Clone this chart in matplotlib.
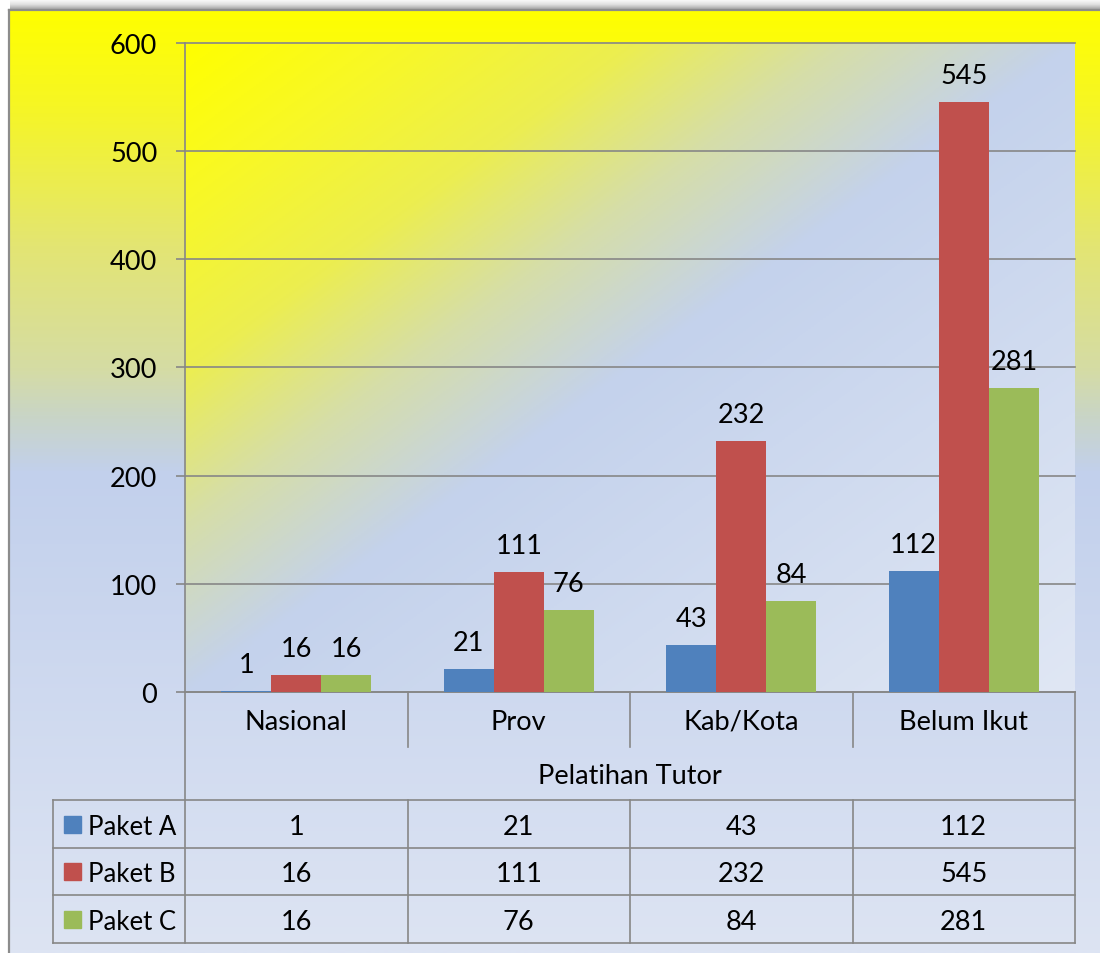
import numpy as np
import matplotlib.pyplot as plt
from matplotlib.colors import LinearSegmentedColormap
from matplotlib.patches import Rectangle
from matplotlib.transforms import blended_transform_factory

# data
categories = ["Nasional", "Prov", "Kab/Kota", "Belum Ikut"]
group_title = "Pelatihan Tutor"
series_names = ["Paket A", "Paket B", "Paket C"]
paket_a = [1, 21, 43, 112]
paket_b = [16, 111, 232, 545]
paket_c = [16, 76, 84, 281]
y_ticks = [0, 100, 200, 300, 400, 500, 600]

colors = ["#4F81BD", "#C0504D", "#9BBB59"]
GRID = "#878787"
LW = 1.2
FS = 19.5
W, H = 1100, 954

plt.rcParams['font.family'] = ['Lato', 'DejaVu Sans']


def fig_rect(x0, y0, x1, y1):
    # pixel box (origin top-left) -> figure fraction rect
    return [x0 / W, 1 - y1 / H, (x1 - x0) / W, (y1 - y0) / H]


fig = plt.figure(figsize=(W / 100, H / 100), dpi=100, facecolor='white')

#   shadow above the chart frame
sh = fig.add_axes(fig_rect(10, 0, W, 11), zorder=0)
sh.axis('off')
sh_cmap = LinearSegmentedColormap.from_list('sh', ['#FFFFFF', '#E0E0E0', '#9A9A9A'])
sh.imshow(np.linspace(0, 1, 64).reshape(-1, 1), cmap=sh_cmap, aspect='auto')

#   chart area background, vertical gradient
bg = fig.add_axes(fig_rect(9, 11, W, H), zorder=0)
bg.axis('off')
bg_cmap = LinearSegmentedColormap.from_list('bg', [
    (0.0, '#FFFF00'), (0.1, '#F6F624'), (0.25, '#E3E573'), (0.38, '#D5DCA4'),
    (0.43, '#C9D5C6'), (0.49, '#C2D0EC'), (1.0, '#DDE4F3')])
bg.imshow(np.linspace(0, 1, 512).reshape(-1, 1), cmap=bg_cmap, aspect='auto')
bg.plot([0, 0], [0, 1], transform=bg.transAxes, color='#8C8C8C', lw=1.6, clip_on=False)
bg.plot([0, 1], [1, 1], transform=bg.transAxes, color='#8C8C8C', lw=1.6, clip_on=False)

#   plot area
ax = fig.add_axes(fig_rect(185, 44, 1075, 693), zorder=2)
ax.set_facecolor('none')
pa_cmap = LinearSegmentedColormap.from_list('pa', [
    (0.0, '#FFFF00'), (0.12, '#F8F826'), (0.25, '#ECEE50'), (0.37, '#D6DEA8'),
    (0.5, '#C4D2EC'), (1.0, '#E0E7F4')])
gx, gy = np.meshgrid(np.linspace(0, 1, 300), np.linspace(0, 1, 300))
ax.imshow((gx + gy) / 2, cmap=pa_cmap, aspect='auto', extent=[0, 1, 0, 1],
          transform=ax.transAxes, zorder=0)

x = np.arange(len(categories))
bw = 0.225
for i, (vals, c) in enumerate(zip([paket_a, paket_b, paket_c], colors)):
    xs = x + (i - 1) * bw
    ax.bar(xs, vals, bw, color=c, zorder=3)
    for xb, v in zip(xs, vals):
        ax.annotate(str(v), (xb, v), xytext=(0, 13.7), textcoords='offset points',
                    ha='center', va='baseline', fontsize=FS, zorder=4)

ax.set_xlim(-0.5, 3.5)
ax.set_ylim(0, 600)
ax.set_yticks(y_ticks)
ax.set_xticks([])
ax.yaxis.grid(True, color=GRID, lw=LW)
for gl in ax.get_ygridlines():
    gl.set_clip_on(False)
ax.set_axisbelow(True)
ax.tick_params(axis='y', length=6.5, width=LW, color=GRID, pad=13.5, labelsize=FS)
for s in ['top', 'right']:
    ax.spines[s].set_visible(False)
for s in ['left', 'bottom']:
    ax.spines[s].set_color(GRID)
    ax.spines[s].set_linewidth(LW)

#   data table under the axis
trans = blended_transform_factory(ax.transData, ax.transAxes)
px = 4 / 890  # data units per pixel along x


def yf(py):
    return (693 - py) / 649


def tline(xs, ys):
    ax.plot(xs, ys, transform=trans, color=GRID, lw=LW, clip_on=False, zorder=5)


x_leg = -0.5 - (185 - 53) * px
tline([-0.5, -0.5], [yf(693), yf(944)])
tline([3.5, 3.5], [yf(693), yf(944)])
tline([x_leg, x_leg], [yf(801), yf(944)])
for xd in [0.5, 1.5, 2.5]:
    tline([xd, xd], [yf(693), yf(748)])
    tline([xd, xd], [yf(801), yf(944)])
for py in [801, 849, 896, 944]:
    tline([x_leg, 3.5], [yf(py), yf(py)])

for i, cat in enumerate(categories):
    ax.text(i, yf(720), cat, transform=trans, ha='center', va='center_baseline', fontsize=FS)
ax.text(1.5, yf(774), group_title, transform=trans, ha='center', va='center_baseline', fontsize=FS)

row_mid = [825, 872, 920]
for r, (name, vals, c) in enumerate(zip(series_names, [paket_a, paket_b, paket_c], colors)):
    ym = row_mid[r]
    ax.add_patch(Rectangle((-0.5 - (185 - 64) * px, yf(ym + 8.5)), 17 * px, 17 / 649,
                           transform=trans, color=c, clip_on=False, zorder=5))
    ax.text(-0.5 - (185 - 88) * px, yf(ym), name, transform=trans, ha='left',
            va='center_baseline', fontsize=18.5)
    for i, v in enumerate(vals):
        ax.text(i, yf(ym), str(v), transform=trans, ha='center', va='center_baseline', fontsize=FS)

fig.savefig('out.png', dpi=100, facecolor='white')
